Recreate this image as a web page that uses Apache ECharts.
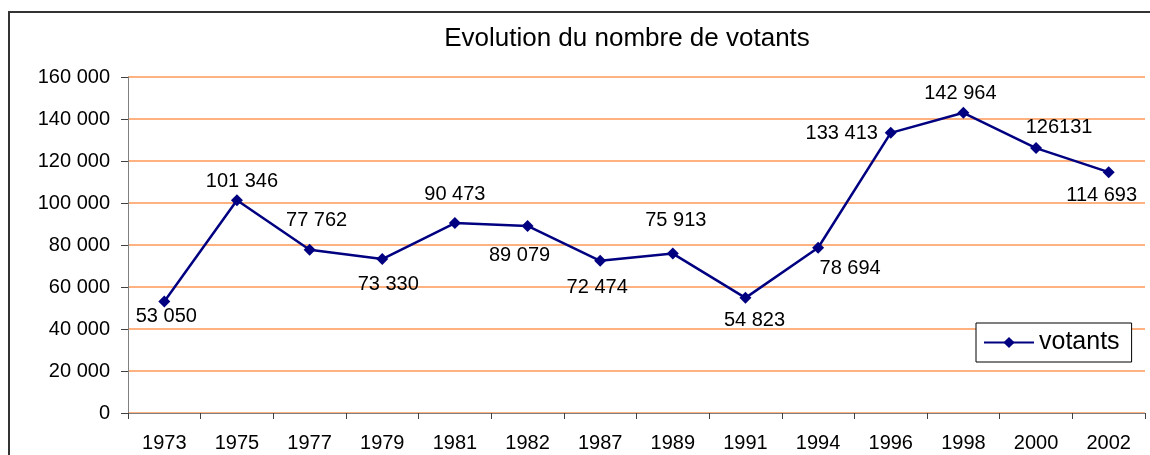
<!DOCTYPE html>
<html>
<head>
<meta charset="utf-8">
<script src="https://cdn.jsdelivr.net/npm/echarts@6/dist/echarts.min.js"></script>
<style>
  html, body { margin: 0; padding: 0; background: #fff; }
  #chart { width: 1150px; height: 455px; }
</style>
</head>
<body>
<div id="chart"></div>
<script>
// années (axe des catégories)
const years = ['1973', '1975', '1977', '1979', '1981', '1982', '1987', '1989',
  '1991', '1994', '1996', '1998', '2000', '2002'];

// nombre de votants
const votants = [53050, 101346, 77762, 73330, 90473, 89079, 72474, 75913,
  54823, 78694, 133413, 142964, 126131, 114693];

// étiquettes telles qu'écrites sur le graphique
const labelTexts = ['53 050', '101 346', '77 762', '73 330', '90 473', '89 079',
  '72 474', '75 913', '54 823', '78 694', '133 413', '142 964', '126131', '114 693'];

// graduations de l'axe vertical
const yMin = 0;
const yMax = 160000;
const yStep = 20000;

const FONT = '"Liberation Sans", Arial, sans-serif';

// décalage de chaque étiquette par rapport au point (placement manuel d'Excel)
const labelOffsets = [
  [2, 15], [5, -19], [7, -29], [6, 25], [0, -29], [-8, 30], [-3, 27],
  [3, -33], [9, 23], [32, 21], [-49, 1], [-3, -19], [23, -21], [-7, 23]
];

// espace comme séparateur de milliers
function formatNumber(value) {
  return String(value).replace(/\B(?=(\d{3})+(?!\d))/g, ' ');
}

const seriesData = votants.map((value, index) => {
  return {
    value: value,
    label: {
      formatter: labelTexts[index],
      offset: labelOffsets[index]
    }
  };
});

const chart = echarts.init(document.getElementById('chart'), null, { renderer: 'canvas' });

const options = {
  backgroundColor: '#fff',
  animation: false,
  textStyle: { fontFamily: FONT },
  title: {
    text: 'Evolution du nombre de votants',
    left: 622,
    top: 21,
    textAlign: 'center',
    textStyle: {
      fontFamily: FONT,
      fontSize: 26,
      fontWeight: 'normal',
      color: '#000'
    }
  },
  // cadre du graphique
  graphic: [
    {
      type: 'rect',
      shape: { x: 9, y: 12, width: 2000, height: 1000 },
      style: { fill: 'none', stroke: '#333', lineWidth: 2 },
      silent: true
    }
  ],
  legend: {
    left: 976,
    top: 323,
    orient: 'vertical',
    backgroundColor: '#fff',
    borderColor: '#000',
    borderWidth: 1,
    borderRadius: 0,
    padding: [7, 12, 7, 7],
    itemWidth: 50,
    itemHeight: 14,
    textStyle: {
      fontFamily: FONT,
      fontSize: 25,
      color: '#000'
    },
    data: ['votants']
  },
  grid: {
    left: 128,
    right: 5,
    top: 77,
    bottom: 42,
    containLabel: false
  },
  xAxis: {
    type: 'category',
    data: years,
    boundaryGap: true,
    axisLine: { lineStyle: { color: '#808080', width: 1 } },
    axisTick: { show: true, alignWithLabel: false, length: 6, lineStyle: { color: '#404040' } },
    axisLabel: {
      interval: 0,
      margin: 20,
      fontFamily: FONT,
      fontSize: 20,
      color: '#000'
    },
    splitLine: { show: false }
  },
  yAxis: {
    type: 'value',
    min: yMin,
    max: yMax,
    interval: yStep,
    axisLine: { show: true, lineStyle: { color: '#808080', width: 1 } },
    axisTick: { show: true, length: 7, lineStyle: { color: '#404040' } },
    axisLabel: {
      margin: 18,
      fontFamily: FONT,
      fontSize: 20,
      color: '#000',
      formatter: formatNumber
    },
    splitLine: { show: true, lineStyle: { color: '#ff9955', width: 1.5 } }
  },
  series: [
    {
      name: 'votants',
      type: 'line',
      data: seriesData,
      symbol: 'diamond',
      symbolSize: 12,
      itemStyle: { color: '#000080' },
      lineStyle: { color: '#000080', width: 2.5 },
      label: {
        show: true,
        position: 'inside',
        align: 'center',
        verticalAlign: 'middle',
        fontFamily: FONT,
        fontSize: 20,
        color: '#000'
      }
    }
  ]
};

chart.setOption(options);
</script>
</body>
</html>
